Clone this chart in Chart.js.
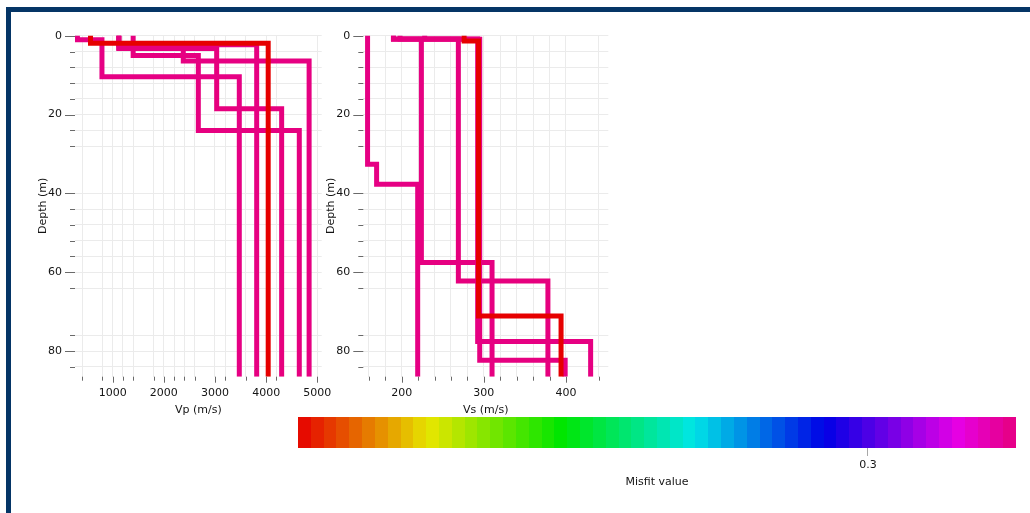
<!DOCTYPE html>
<html>
<head>
<meta charset="utf-8">
<script src="https://cdn.jsdelivr.net/npm/chart.js@4.4.1/dist/chart.umd.min.js"></script>
<style>
    html, body { margin: 0; padding: 0; background: #fff; }
    body { width: 1030px; height: 513px; position: relative; overflow: hidden; }
    #frame { position: absolute; left: 6px; top: 7px; right: -10px; bottom: -10px;
             border-top: 5px solid #053566; border-left: 5px solid #053566; }
    canvas { position: absolute; }
</style>
</head>
<body>
<div id="frame"></div>
<canvas id="vpChart" width="320" height="400" style="left:20px;top:24px"></canvas>
<canvas id="vsChart" width="320" height="400" style="left:300px;top:24px"></canvas>
<canvas id="misfitBar" width="740" height="90" style="left:290px;top:410px"></canvas>
<script>
// misfit of each model, model 0 is the best one
var misfits = [0.223, 0.3196, 0.3198, 0.3200, 0.3197, 0.3199];

// velocity of each layer (m/s) and depth of each layer bottom (m); last layer is the half-space
var vpValues = [
    [566, 4040],
    [310, 790, 3475],
    [1120, 3815],
    [1120, 3033, 4303],
    [1120, 2380, 4840],
    [1400, 2674, 4648]
];
var vpDepths = [
    [1.9],
    [1.0, 10.4],
    [2.3],
    [3.2, 18.5],
    [3.1, 6.4],
    [5.0, 24.0]
];
var vsValues = [
    [276, 293.5, 394],
    [158.5, 169.5, 219.5],
    [190, 224, 310],
    [198, 269, 378],
    [228, 292.5, 430],
    [190, 295, 399]
];
var vsDepths = [
    [1.3, 71.1],
    [32.6, 37.7],
    [0.8, 57.5],
    [0.8, 62.2],
    [0.8, 77.6],
    [0.9, 82.3]
];

var depthTicks = [0, 4, 8, 12, 16, 20, 24, 28, 40, 44, 48, 52, 56, 60, 64, 76, 80, 84];
var depthLabels = [0, 20, 40, 60, 80];
var vpTicks = [400, 800, 1000, 1200, 1400, 1800, 2000, 2200, 2400, 2600, 3000, 3200, 3600, 4000, 4200, 5000];
var vpLabels = [1000, 2000, 3000, 4000, 5000];
var vsTicks = [160, 180, 200, 220, 240, 260, 280, 300, 320, 340, 360, 380, 400, 440];
var vsLabels = [200, 300, 400];
var misfitTicks = [0.3];

var depthMin = -0.2, depthMax = 86.5;
var misfitMin = Math.min.apply(null, misfits);
var misfitMax = Math.max.apply(null, misfits);

Chart.defaults.font.family = 'DejaVu Sans';
Chart.defaults.font.size = 11;
Chart.defaults.color = '#141414';

// hue goes red -> yellow -> green -> cyan -> blue -> magenta -> pink
function misfitColor(t) {
    var h = 327 * Math.max(0, Math.min(1, t)) / 60;
    var v = 230;
    var i = Math.floor(h), f = h - i;
    var q = Math.round(v * (1 - f)), p = Math.round(v * f);
    var rgb = [[v, p, 0], [q, v, 0], [0, v, p], [0, q, v], [p, 0, v], [v, 0, q]][i % 6];
    return 'rgb(' + rgb.join(',') + ')';
}

function stepProfile(values, depths) {
    var pts = [];
    var top = 0;
    values.forEach(function(v, i) {
        var bottom = i < depths.length ? depths[i] : depthMax;
        pts.push({x: v, y: top}, {x: v, y: bottom});
        top = bottom;
    });
    return pts;
}

// pyqtgraph-like outward ticks: long for labelled values, short otherwise
var tickMarks = {
    id: 'tickMarks',
    afterDraw: function(chart) {
        var ctx = chart.ctx, a = chart.chartArea;
        var xs = chart.scales.x, ys = chart.scales.y;
        ctx.save();
        ctx.strokeStyle = '#6a6a6a';
        ctx.lineWidth = 1;
        ctx.beginPath();
        xs.ticks.forEach(function(t) {
            var px = Math.round(xs.getPixelForValue(t.value)) + 0.5;
            ctx.moveTo(px, a.bottom);
            ctx.lineTo(px, a.bottom + (t.label ? 6 : 4));
        });
        ys.ticks.forEach(function(t) {
            var py = Math.round(ys.getPixelForValue(t.value)) + 0.5;
            ctx.moveTo(a.left - (t.label ? 10 : 5), py);
            ctx.lineTo(a.left, py);
        });
        ctx.stroke();
        ctx.restore();
    }
};

function profileChart(id, values, depths, xMin, xMax, xTicks, xLabels, xTitle, padRight, yWidth, yTitlePad) {
    var datasets = values.map(function(v, i) {
        return {
            data: stepProfile(v, depths[i]),
            borderColor: misfitColor((misfits[i] - misfitMin) / (misfitMax - misfitMin)),
            borderWidth: 5,
            borderJoinStyle: 'miter',
            borderCapStyle: 'butt',
            pointRadius: 0,
            showLine: true,
            tension: 0
        };
    });
    return new Chart(document.getElementById(id), {
        type: 'scatter',
        data: { datasets: datasets },
        plugins: [tickMarks],
        options: {
            responsive: false,
            animation: false,
            layout: { padding: { top: 11, right: padRight, left: 0, bottom: 0 } },
            plugins: { legend: { display: false }, tooltip: { enabled: false } },
            scales: {
                x: {
                    type: 'linear', min: xMin, max: xMax,
                    afterBuildTicks: function(s) { s.ticks = xTicks.map(function(v) { return {value: v}; }); },
                    afterFit: function(s) { s.height = 47.3; },
                    grid: { color: '#ebebeb', tickLength: 10, tickColor: 'rgba(0,0,0,0)' },
                    border: { display: false },
                    ticks: {
                        autoSkip: false, maxRotation: 0, padding: 0,
                        callback: function(v) { return xLabels.indexOf(v) >= 0 ? String(v) : ''; }
                    },
                    title: { display: true, text: xTitle, padding: { top: 0, bottom: 7.4 } }
                },
                y: {
                    type: 'linear', reverse: true, min: depthMin, max: depthMax,
                    afterBuildTicks: function(s) { s.ticks = depthTicks.map(function(v) { return {value: v}; }); },
                    afterFit: function(s) { s.width = yWidth; },
                    grid: { color: '#ebebeb', tickLength: 13, tickColor: 'rgba(0,0,0,0)' },
                    border: { display: false },
                    ticks: {
                        autoSkip: false, padding: 0,
                        callback: function(v) { return depthLabels.indexOf(v) >= 0 ? String(v) : ''; }
                    },
                    title: { display: true, text: 'Depth (m)', padding: { top: yTitlePad, bottom: 0 } }
                }
            }
        }
    });
}

profileChart('vpChart', vpValues, vpDepths, 263, 5086, vpTicks, vpLabels, 'Vp (m/s)', 18.3, 55, 16.4);
profileChart('vsChart', vsValues, vsDepths, 153.3, 451.5, vsTicks, vsLabels, 'Vs (m/s)', 11.7, 63.3, 24.4);

var colorSteps = 56;
new Chart(document.getElementById('misfitBar'), {
    type: 'bar',
    data: {
        labels: ['misfit'],
        datasets: [{
            data: [[misfitMin, misfitMax]],
            barPercentage: 1,
            categoryPercentage: 1,
            borderWidth: 0,
            backgroundColor: function(c) {
                var a = c.chart.chartArea;
                if (!a) return misfitColor(0);
                var g = c.chart.ctx.createLinearGradient(a.left, 0, a.right, 0);
                for (var i = 0; i < colorSteps; i++) {
                    var col = misfitColor((i + 0.5) / colorSteps);
                    g.addColorStop(i / colorSteps, col);
                    g.addColorStop((i + 1) / colorSteps, col);
                }
                return g;
            }
        }]
    },
    options: {
        indexAxis: 'y',
        responsive: false,
        animation: false,
        layout: { padding: { top: 7, right: 14, left: 8, bottom: 0 } },
        plugins: { legend: { display: false }, tooltip: { enabled: false } },
        scales: {
            x: {
                type: 'linear', min: misfitMin, max: misfitMax,
                afterBuildTicks: function(s) { s.ticks = misfitTicks.map(function(v) { return {value: v}; }); },
                afterFit: function(s) { s.height = 52; },
                grid: { drawOnChartArea: false, drawTicks: true, tickLength: 8, color: '#a8a8a8' },
                border: { display: false },
                ticks: { padding: 3, autoSkip: false, maxRotation: 0 },
                title: { display: true, text: 'Misfit value', padding: { top: 0, bottom: 11.4 } }
            },
            y: { display: false }
        }
    }
});
</script>
</body>
</html>
